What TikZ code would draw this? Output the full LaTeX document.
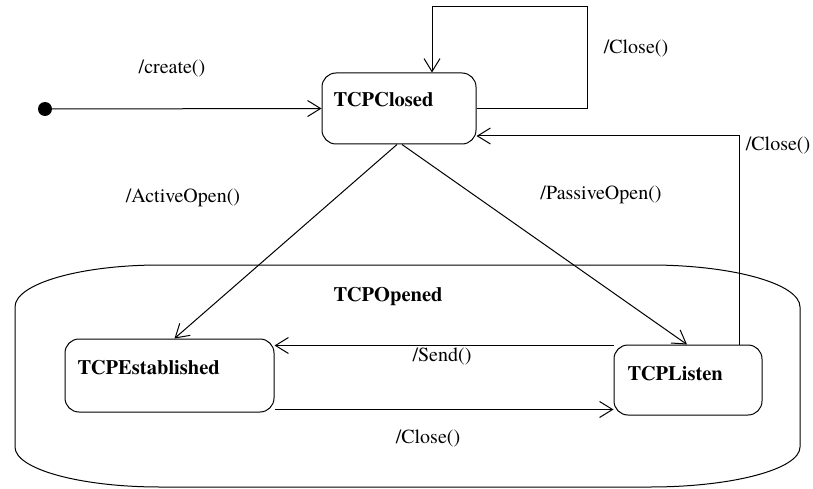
\documentclass[tikz,border=0pt]{standalone}
\usepackage{fontspec}
\setmainfont{texgyretermes}[Extension=.otf,UprightFont=*-regular,BoldFont=*-bold,ItalicFont=*-italic,BoldItalicFont=*-bolditalic]
\usetikzlibrary{arrows.meta,calc}
\begin{document}
\begin{tikzpicture}[x=1pt,y=1pt,
  line width=1pt,
  arr/.style={-{Straight Barb[length=13pt,width=16pt,line width=1pt]}},
  statebox/.style={draw,rectangle,rounded corners=14pt,inner sep=0pt},
  stname/.style={anchor=west,inner sep=0pt,font=\fontsize{20.5}{22}\selectfont\bfseries},
  lbl/.style={inner sep=0pt,font=\fontsize{20}{22}\selectfont}]
\useasboundingbox (0,0) rectangle (813,-489);
% composite state TCPOpened
\draw (160,-265) -- (650,-265) arc[start angle=90,end angle=0,x radius=150,y radius=42]
  -- (800,-447) arc[start angle=0,end angle=-90,x radius=150,y radius=40]
  -- (160,-487) arc[start angle=270,end angle=180,x radius=145,y radius=40]
  -- (15,-307) arc[start angle=180,end angle=90,x radius=145,y radius=42] -- cycle;
\node[stname] (topened) at (333,-297) {TCPOpened};
% states
\node[statebox,minimum width=154pt,minimum height=71pt] (closed) at (399,-108.5) {};
\node[stname] (tclosed) at (333,-100) {TCPClosed};
\node[statebox,minimum width=209pt,minimum height=73pt] (est) at (169.5,-375.5) {};
\node[stname] (test) at (77,-368) {TCPEstablished};
\node[statebox,minimum width=148pt,minimum height=70pt] (listen) at (688,-380) {};
\node[stname] (tlisten) at (627,-374) {TCPListen};
% initial
\node[circle,fill,inner sep=0pt,minimum size=14pt] (init) at (45,-109) {};
% transitions
\draw[arr] (init.center) -- (closed.west);
\coordinate (lc1) at (587,-7);
\draw[arr] (closed.east) -| (lc1) -| ([xshift=33pt]closed.north);
\draw[arr] ([xshift=51pt]listen.north) |- ([yshift=-27.5pt]closed.east);
\draw[arr] ([xshift=-2pt]closed.south) -- ([xshift=5pt]est.north);
\draw[arr] ([xshift=3pt]closed.south) -- ([xshift=-1pt]listen.north);
\draw[arr] ([yshift=-1pt]listen.north west) -- ([yshift=-1pt]listen.north west -| est.east);
\draw[arr] ([yshift=3pt]est.south east) -- ([yshift=3pt]est.south east -| listen.west);
% labels
\node[lbl] (lcreate) at (172,-69) {/create()};
\node[lbl] (lactive) at (183,-198) {/ActiveOpen()};
\node[lbl] (lclose1) at (636,-48) {/Close()};
\node[lbl] (lpassive) at (601,-195) {/PassiveOpen()};
\node[lbl] (lclose2) at (778,-145) {/Close()};
\node[lbl] (lsend) at (442,-356) {/Send()};
\node[lbl] (lclose3) at (428,-438) {/Close()};
\end{tikzpicture}
\end{document}
